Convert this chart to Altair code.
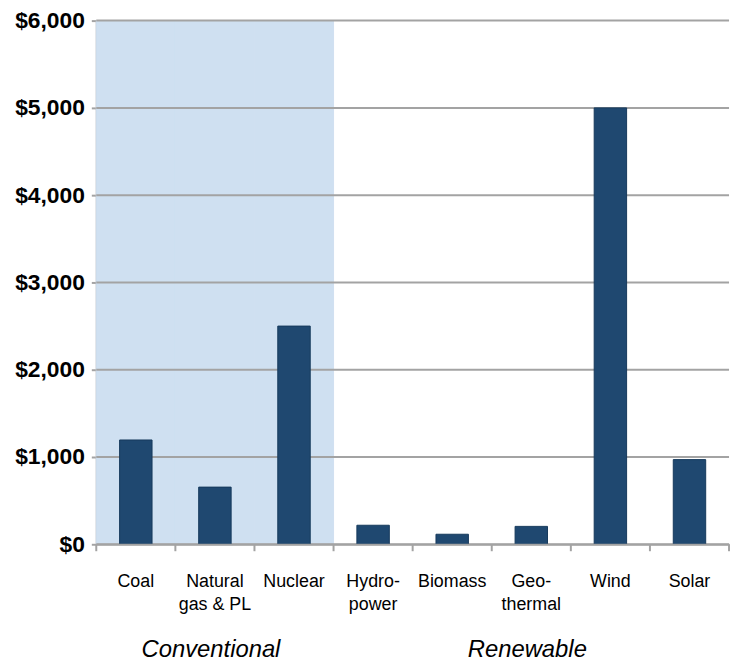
import altair as alt
import pandas as pd

categories = ["Coal", "Natural|gas & PL", "Nuclear", "Hydro-|power", "Biomass",
              "Geo-|thermal", "Wind", "Solar"]
groups = ["Conventional", "Conventional", "Conventional", "Renewable", "Renewable",
          "Renewable", "Renewable", "Renewable"]
values = [1195, 655, 2500, 218, 115, 205, 5000, 970]
y_ticks = [0, 1000, 2000, 3000, 4000, 5000, 6000]
group_names = ["Conventional", "Renewable"]
group_anchor = ["Natural|gas & PL", "Geo-|thermal"]

df = pd.DataFrame({"cat": categories, "group": groups, "value": values})
shade = df[df["group"] == "Conventional"].assign(top=max(y_ticks), bottom=0)
grid = pd.DataFrame({"tick": y_ticks})
glab = pd.DataFrame({"group": group_names, "cat": group_anchor})
last = df.tail(1)

W, H = 638, 528
FONT = "Liberation Sans"
GRAY = "#a3a3a3"
TICK = 7

xscale = alt.Scale(domain=categories, paddingInner=0, paddingOuter=0)
yscale = alt.Scale(domain=[0, 6000], nice=False)

xaxis = alt.Axis(title=None, labelAngle=0, ticks=False, bandPosition=0.5,
                 labelAlign="center",
                 labelExpr="split(datum.label, '|')",
                 labelFont=FONT, labelFontSize=18, labelColor="#000000",
                 labelLineHeight=23, labelPadding=29,
                 domainColor=GRAY, domainWidth=2,
                 labelBaseline="top")
yaxis = alt.Axis(title=None, values=y_ticks, format="$,.0f", grid=False,
                 labelFont=FONT, labelFontSize=23, labelFontWeight="bold",
                 labelColor="#000000", labelPadding=7,
                 tickSize=5, tickColor=GRAY, tickWidth=2,
                 domainColor=GRAY, domainWidth=2)

shade_layer = alt.Chart(shade).mark_rect(
    color="#cfe0f1", stroke="#cfe0f1", strokeWidth=1
).encode(
    x=alt.X("cat:N", scale=xscale, sort=categories, axis=xaxis),
    y=alt.Y("top:Q", scale=yscale, axis=yaxis),
    y2="bottom:Q",
)

grid_layer = alt.Chart(grid).mark_rule(color=GRAY, strokeWidth=2).encode(
    y=alt.Y("tick:Q", scale=yscale, axis=yaxis)
)

bars = alt.Chart(df).mark_bar(
    color="#1f4870", stroke="#163a5c", strokeWidth=1,
    width=alt.RelativeBandSize(0.41)
).encode(
    x=alt.X("cat:N", scale=xscale, sort=categories, axis=xaxis),
    y=alt.Y("value:Q", scale=yscale, axis=yaxis),
)

ticks_layer = alt.Chart(df).mark_rule(color=GRAY, strokeWidth=2).encode(
    x=alt.X("cat:N", scale=xscale, sort=categories, bandPosition=0, axis=xaxis),
    y=alt.value(H),
    y2=alt.value(H + TICK),
)
end_tick = alt.Chart(last).mark_rule(color=GRAY, strokeWidth=2).encode(
    x=alt.X("cat:N", scale=xscale, sort=categories, bandPosition=1, axis=xaxis),
    y=alt.value(H),
    y2=alt.value(H + TICK),
)

group_text = alt.Chart(glab).mark_text(
    font=FONT, fontSize=24, fontStyle="italic", color="#000000",
    baseline="alphabetic", align="center", dx=-4
).encode(
    x=alt.X("cat:N", scale=xscale, sort=categories, axis=xaxis),
    y=alt.value(H + 114),
    text="group:N",
)

chart = alt.layer(shade_layer, grid_layer, bars, ticks_layer, end_tick, group_text).properties(
    width=W, height=H,
    autosize=alt.AutoSizeParams(type="none"),
    padding={"left": 89, "top": 10, "right": 4, "bottom": 118},
).configure_view(stroke=None)

chart.save("out.html", embed_options={"renderer": "svg", "actions": False})
